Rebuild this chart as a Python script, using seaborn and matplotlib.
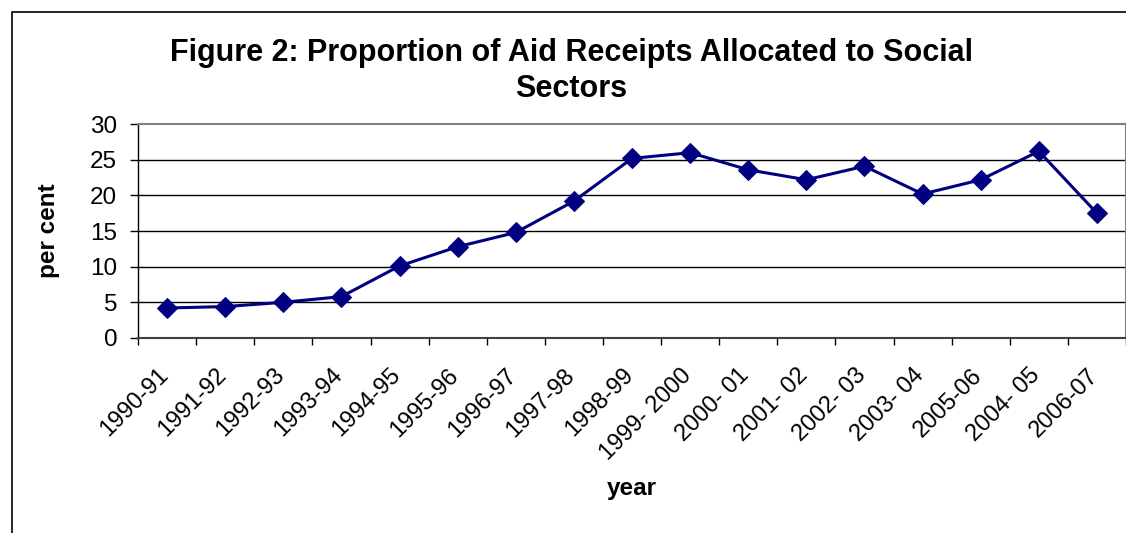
import numpy as np
import pandas as pd
import matplotlib
matplotlib.use("Agg")
import matplotlib.pyplot as plt
import matplotlib.transforms as mtransforms
import seaborn as sns
from matplotlib.patches import Rectangle

# data
years = ["1990-91", "1991-92", "1992-93", "1993-94", "1994-95", "1995-96",
         "1996-97", "1997-98", "1998-99", "1999- 2000", "2000- 01", "2001- 02",
         "2002- 03", "2003- 04", "2005-06", "2004- 05", "2006-07"]
share = [4.2, 4.4, 5.0, 5.8, 10.1, 12.8, 14.8, 19.2, 25.2, 26.0, 23.6, 22.2,
         24.1, 20.2, 22.2, 26.2, 17.5]

df = pd.DataFrame({"pos": np.arange(len(years)), "year": years, "share": share})

sns.set_style("white")
plt.rcParams["font.family"] = ["Liberation Sans", "DejaVu Sans"]
plt.rcParams["text.color"] = "black"
plt.rcParams["axes.labelcolor"] = "black"
plt.rcParams["xtick.color"] = "black"
plt.rcParams["ytick.color"] = "black"

fig = plt.figure(figsize=(11.26, 5.33), dpi=100)
ax = fig.add_axes([0.1226, 0.366, 0.8774, 0.401])

sns.lineplot(data=df, x="pos", y="share", ax=ax, color="#000080",
             marker="D", markersize=10.5, linewidth=2.2, markeredgecolor="#000080")

ax.set_xlim(-0.5, len(years) - 0.5)
ax.set_ylim(0, 30)
ax.set_yticks(range(0, 31, 5))
ax.tick_params(axis="y", labelsize=17.5, length=6, width=1, color="black",
               direction="out", left=True, pad=9)

# category boundaries get the tick marks, labels sit in the middle
ax.set_xticks(np.arange(-0.5, len(years), 1.0))
ax.set_xticklabels([])
ax.tick_params(axis="x", which="major", length=5, width=1, color="black",
               direction="out", bottom=True)
ax.set_xticks(df["pos"], minor=True)
ax.set_xticklabels(years, minor=True, rotation=45, ha="right", va="top",
                   rotation_mode="anchor", fontsize=17)
ax.tick_params(axis="x", which="minor", length=0, pad=19)
shift = mtransforms.ScaledTranslation(-10 / 100, 0, fig.dpi_scale_trans)
for lab in ax.get_xticklabels(minor=True):
    lab.set_transform(lab.get_transform() + shift)

for v in range(5, 30, 5):
    ax.axhline(v, color="black", linewidth=1, zorder=0)

for s in ax.spines.values():
    s.set_visible(True)
    s.set_color("#808080")
    s.set_linewidth(1.5)
ax.spines["left"].set_color("black")
ax.spines["left"].set_linewidth(1)
ax.spines["bottom"].set_color("#404040")

ax.set_xlabel("year", fontsize=17.5, fontweight="bold", labelpad=9)
ax.set_ylabel("per cent", fontsize=17.5, fontweight="bold", labelpad=22)
fig.text(571 / 1126, 1 - 71 / 533,
         "Figure 2: Proportion of Aid Receipts Allocated to Social\nSectors",
         ha="center", va="center", fontsize=22, fontweight="bold",
         linespacing=1.3)

# frame of the chart area (top and left visible)
fig.patches.append(Rectangle((12 / 1126, -0.1), 1.2, 1 - 12 / 533 + 0.1,
                             transform=fig.transFigure, fill=False,
                             edgecolor="black", linewidth=1.2))

fig.savefig("out.png", dpi=100)
